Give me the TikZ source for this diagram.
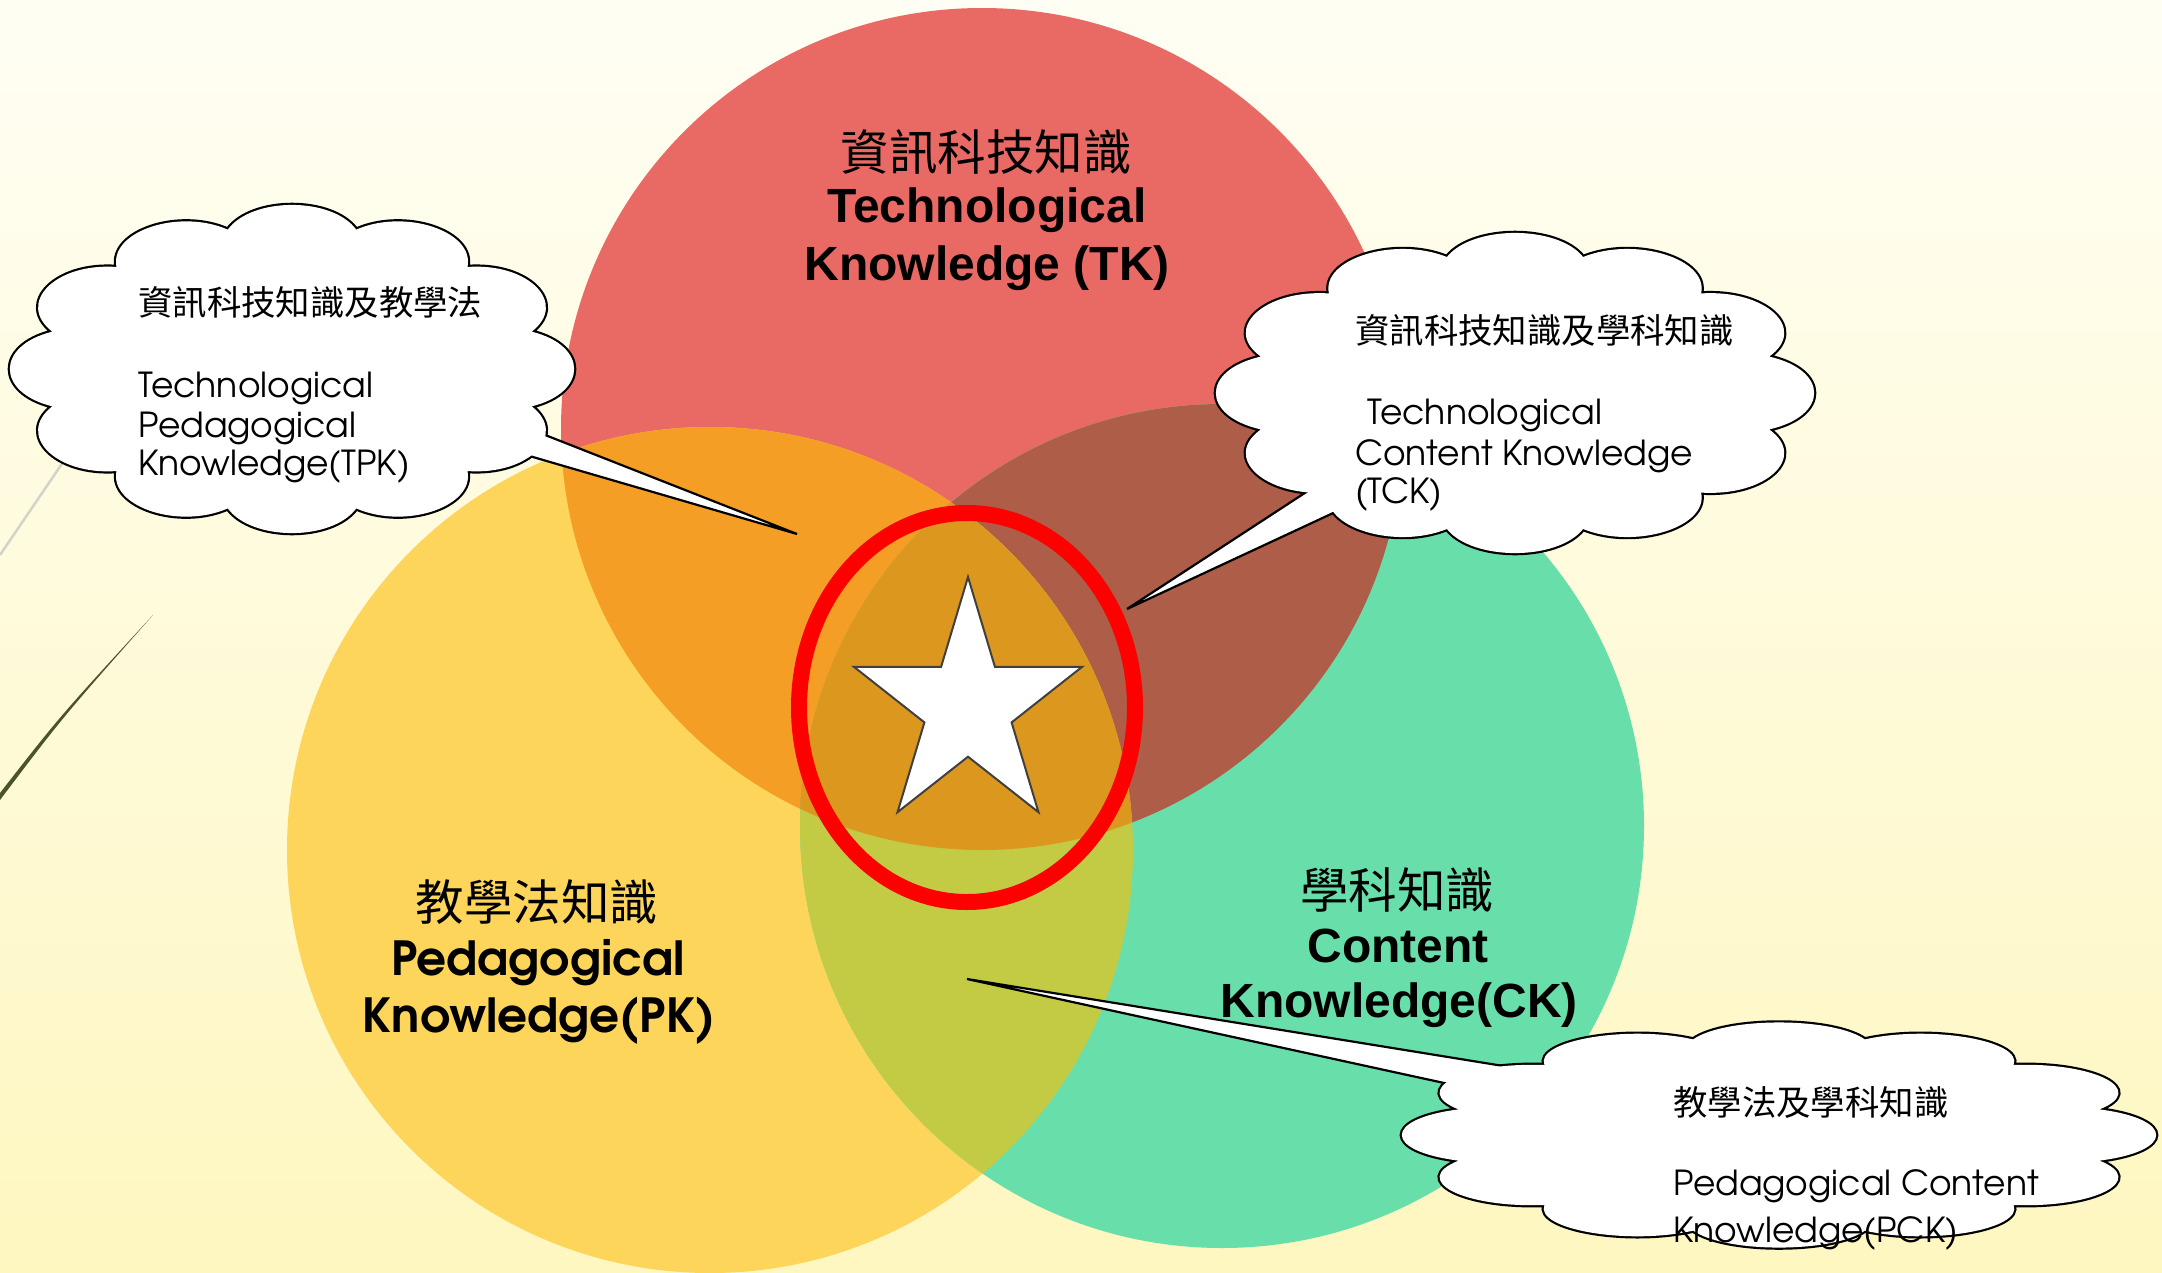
\documentclass[tikz,border=0pt]{standalone}
\usepackage{fontspec}
\setmainfont{Liberation Sans}
\newfontfamily\cjk{Noto Sans CJK TC}
\newfontfamily\gothic{TeX Gyre Adventor}
\definecolor{bgtop}{HTML}{FFFEF4}
\definecolor{bgbot}{HTML}{FEF7C0}
\definecolor{tkc}{HTML}{E96A64}
\definecolor{pkc}{HTML}{FDD55A}
\definecolor{ckc}{HTML}{68DFAA}
\definecolor{tpc}{HTML}{F49E26}
\definecolor{tcc}{HTML}{AD5D48}
\definecolor{pcc}{HTML}{C2CB43}
\definecolor{allc}{HTML}{DC981E}
\definecolor{decogray}{HTML}{D3D3C8}
\definecolor{decodark}{HTML}{4B5328}
\begin{document}
\begin{tikzpicture}[x=1pt,y=-1pt,
  pics/cloudshape/.style={code={
    \path[pic actions] (15:0.88)
      \foreach \a in {15,45,...,345} { .. controls +(\a+38:0.218) and +(\a-8:0.218) .. (\a+30:0.88) } -- cycle;
  }},
  cloudline/.style={draw=black, line width=4.4pt},
  cloudfill/.style={fill=white},
  tail/.style={draw=black, line width=2.2pt, line join=miter},
  bigcjk/.style={font=\cjk\fontsize{48.5}{58}\selectfont, inner sep=0pt, anchor=center},
  biglab/.style={font=\bfseries\fontsize{48}{57}\selectfont, inner sep=0pt, anchor=base},
  pklab/.style={font=\gothic\bfseries\fontsize{47}{56}\selectfont, inner sep=0pt, anchor=base},
  smcjk/.style={font=\cjk\fontsize{34.4}{40}\selectfont, inner sep=0pt, anchor=west},
  smlab/.style={font=\gothic\fontsize{34.5}{42}\selectfont, inner sep=0pt, anchor=base west}
]
\useasboundingbox (0,0) rectangle (2162,1272);
\clip (0,0) rectangle (2162,1272);
\shade[top color=bgtop, bottom color=bgbot] (0,0) rectangle (2162,1272);

% decorative strokes at the left edge
\draw[decogray, line width=2.5pt] (0,555) -- (150,334);
\fill[decodark] (0,800) .. controls (62,718) .. (153,615) .. controls (60,716) .. (0,793) -- cycle;

% the three circles
\coordinate (TKc) at (982,429);
\coordinate (PKc) at (710,850);
\coordinate (CKc) at (1222,826);
\fill[tkc] (TKc) circle[radius=421pt];
\fill[pkc] (PKc) circle[radius=423pt];
\fill[ckc] (CKc) circle[radius=422pt];
\begin{scope}
  \clip (TKc) circle[radius=421pt];
  \fill[tpc] (PKc) circle[radius=423pt];
\end{scope}
\begin{scope}
  \clip (TKc) circle[radius=421pt];
  \fill[tcc] (CKc) circle[radius=422pt];
\end{scope}
\begin{scope}
  \clip (PKc) circle[radius=423pt];
  \fill[pcc] (CKc) circle[radius=422pt];
\end{scope}
\begin{scope}
  \clip (TKc) circle[radius=421pt];
  \clip (PKc) circle[radius=423pt];
  \fill[allc] (CKc) circle[radius=422pt];
\end{scope}

% red ring and star
\draw[red, line width=16pt] (967,707.5) ellipse[x radius=168pt, y radius=194.5pt];
\draw[fill=white, draw=black!75, line width=2pt, line join=miter]
  (968,577) -- (941.1,666.8) -- (853.9,666.8) -- (924.4,722.4) -- (897.5,812.2)
  -- (968,756.7) -- (1038.5,812.2) -- (1011.6,722.4) -- (1082.1,666.8)
  -- (994.9,666.8) -- cycle;

% circle labels
\node[bigcjk] (tkz) at (986,152) {資訊科技知識};
\node[biglab] (tk1) at (987,222) {Technological};
\node[biglab] (tk2) at (987,280) {Knowledge (TK)};
\node[bigcjk] (pkz) at (537,902) {教學法知識};
\node[pklab] (pk1) at (538,975) {Pedagogical};
\node[pklab] (pk2) at (539,1032) {Knowledge(PK)};
\node[bigcjk] (ckz) at (1397,890) {學科知識};
\node[biglab] (ck1) at (1398,962) {Content};
\node[biglab] (ck2) at (1399,1017) {Knowledge(CK)};

% TPK callout
\pic[cloudline, xscale=282, yscale=164] (tpkedge) at (292,369) {cloudshape};
\coordinate (tpktip) at (797,534);
\coordinate (tpka) at (507,420);
\coordinate (tpkb) at (478,441);
\fill[white] (tpka) -- (tpktip) -- (tpkb) -- cycle;
\draw[tail] (tpka) -- (tpktip) -- (tpkb);
\pic[cloudfill, xscale=282, yscale=164] (tpk) at (292,369) {cloudshape};

% TCK callout
\pic[cloudline, xscale=299, yscale=160] (tckedge) at (1515,393) {cloudshape};
\coordinate (tcktip) at (1127,609);
\coordinate (tcka) at (1340,470);
\coordinate (tckb) at (1374,494);
\fill[white] (tcka) -- (tcktip) -- (tckb) -- cycle;
\draw[tail] (tcka) -- (tcktip) -- (tckb);
\pic[cloudfill, xscale=299, yscale=160] (tck) at (1515,393) {cloudshape};

% PCK callout
\pic[cloudline, xscale=377, yscale=112.5] (pckedge) at (1779,1135) {cloudshape};
\coordinate (pcktip) at (967,979);
\coordinate (pcka) at (1559,1075);
\coordinate (pckb) at (1490,1093);
\fill[white] (pcka) -- (pcktip) -- (pckb) -- cycle;
\draw[tail] (pcka) -- (pcktip) -- (pckb);
\pic[cloudfill, xscale=377, yscale=112.5] (pck) at (1779,1135) {cloudshape};

% callout texts
\node[smcjk] (tpkz) at (138,302) {資訊科技知識及教學法};
\node[smlab] (tpk1) at (138,397) {Technological};
\node[smlab] (tpk2) at (138,437) {Pedagogical};
\node[smlab] (tpk3) at (138,475) {Knowledge(TPK)};

\node[smcjk] (tckz) at (1355,330) {資訊科技知識及學科知識};
\node[smlab] (tck1) at (1367,424) {Technological};
\node[smlab] (tck2) at (1355,465) {Content Knowledge};
\node[smlab] (tck3) at (1355,503) {(TCK)};

\node[smcjk] (pckz) at (1673,1103) {教學法及學科知識};
\node[smlab] (pck1) at (1673,1195) {Pedagogical Content};
\node[smlab] (pck2) at (1673,1242) {Knowledge(PCK)};
\end{tikzpicture}
\end{document}
